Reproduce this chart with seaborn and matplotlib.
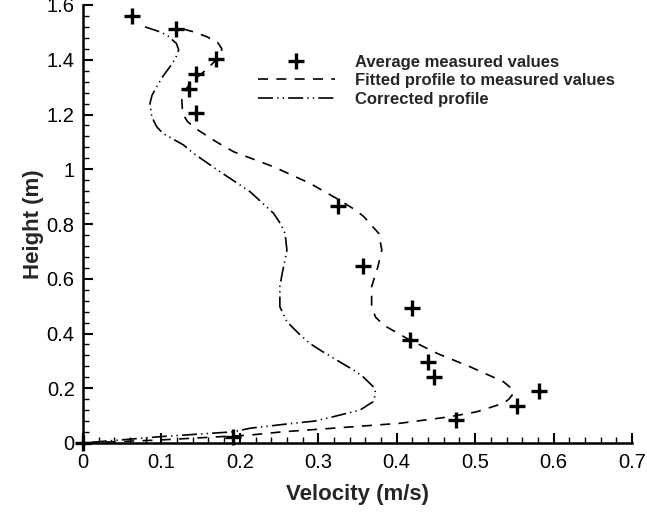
import matplotlib
matplotlib.use("Agg")
import matplotlib.pyplot as plt
from matplotlib.lines import Line2D
from matplotlib.ticker import MultipleLocator
import seaborn as sns
import pandas as pd

# Measured points
meas_velocity = [0.0, 0.191, 0.475, 0.553, 0.582, 0.4475, 0.440, 0.417, 0.419,
                 0.357, 0.3255, 0.1437, 0.135, 0.1437, 0.170, 0.1186, 0.062]
meas_height = [0.0, 0.022, 0.084, 0.136, 0.190, 0.242, 0.297, 0.376, 0.492,
               0.647, 0.866, 1.207, 1.293, 1.348, 1.401, 1.512, 1.561]

# Fitted profile (dashed)
fit_height = [1.512, 1.502, 1.484, 1.462, 1.440, 1.424, 1.400, 1.363, 1.330, 1.300,
              1.253, 1.204, 1.175, 1.150, 1.100, 1.064, 1.009, 0.949, 0.894, 0.850,
              0.827, 0.766, 0.705, 0.644, 0.571, 0.498, 0.460, 0.431, 0.382, 0.328,
              0.279, 0.224, 0.200, 0.182, 0.160, 0.145, 0.114, 0.096, 0.072, 0.054,
              0.041, 0.029, 0.011, 0.0]
fit_velocity = [0.128, 0.141, 0.158, 0.172, 0.177, 0.176, 0.170, 0.157, 0.143, 0.133,
                0.126, 0.127, 0.133, 0.143, 0.170, 0.192, 0.243, 0.289, 0.323, 0.348,
                0.358, 0.377, 0.381, 0.376, 0.368, 0.368, 0.373, 0.383, 0.413, 0.451,
                0.493, 0.536, 0.546, 0.549, 0.543, 0.536, 0.502, 0.468, 0.404, 0.319,
                0.255, 0.213, 0.098, 0.0]

# Corrected profile (dash-dot-dot)
cor_height = [1.520, 1.505, 1.490, 1.460, 1.436, 1.405, 1.375, 1.340, 1.302, 1.270,
              1.241, 1.192, 1.155, 1.131, 1.089, 1.060, 1.000, 0.918, 0.839, 0.800,
              0.766, 0.705, 0.668, 0.620, 0.571, 0.498, 0.443, 0.400, 0.364, 0.340,
              0.303, 0.267, 0.242, 0.206, 0.190, 0.170, 0.151, 0.120, 0.096, 0.080,
              0.072, 0.054, 0.041, 0.023, 0.0]
cor_velocity = [0.079, 0.095, 0.107, 0.119, 0.122, 0.118, 0.111, 0.102, 0.094, 0.088,
                0.0854, 0.0876, 0.094, 0.102, 0.128, 0.140, 0.170, 0.213, 0.243, 0.252,
                0.2576, 0.260, 0.2576, 0.254, 0.251, 0.251, 0.260, 0.275, 0.289, 0.302,
                0.3234, 0.3447, 0.357, 0.370, 0.3725, 0.372, 0.370, 0.353, 0.319, 0.295,
                0.268, 0.213, 0.192, 0.098, 0.0]

x_ticks = [0, 0.1, 0.2, 0.3, 0.4, 0.5, 0.6, 0.7]
x_labels = ["0", "0.1", "0.2", "0.3", "0.4", "0.5", "0.6", "0.7"]
y_ticks = [0, 0.2, 0.4, 0.6, 0.8, 1.0, 1.2, 1.4, 1.6]
y_labels = ["0", "0.2", "0.4", "0.6", "0.8", "1", "1.2", "1.4", "1.6"]

legend_labels = ["Average measured values", "Fitted profile to measured values",
                 "Corrected profile"]

sns.set_style("ticks")
plt.rcParams["font.family"] = ["Liberation Sans", "DejaVu Sans"]

fig = plt.figure(figsize=(6.47, 5.14), dpi=100)
ax = fig.add_axes([83 / 647, 71 / 514, 549 / 647, 438 / 514])

lw = 1.2
dashes_fit = (6, 5)
dashes_cor = (9, 2.5, 0.8, 2.5, 0.8, 2.5)

fit_df = pd.DataFrame({"v": fit_velocity, "h": fit_height})
cor_df = pd.DataFrame({"v": cor_velocity, "h": cor_height})
meas_df = pd.DataFrame({"v": meas_velocity, "h": meas_height})

sns.lineplot(data=fit_df, x="v", y="h", sort=False, estimator=None, ax=ax,
             color="black", linewidth=lw)
ax.lines[-1].set_dashes(dashes_fit)
sns.lineplot(data=cor_df, x="v", y="h", sort=False, estimator=None, ax=ax,
             color="black", linewidth=lw)
ax.lines[-1].set_dashes(dashes_cor)
sns.scatterplot(data=meas_df, x="v", y="h", marker="+", s=120, linewidth=2.4,
                color="black", ax=ax, clip_on=False, zorder=5)

ax.set_xlim(0, 0.7)
ax.set_ylim(0, 1.6)
ax.set_xticks(x_ticks)
ax.set_xticklabels(x_labels)
ax.set_yticks(y_ticks)
ax.set_yticklabels(y_labels)
ax.xaxis.set_minor_locator(MultipleLocator(0.02))
ax.yaxis.set_minor_locator(MultipleLocator(0.04))
ax.tick_params(which="major", direction="in", length=7, width=1.5, labelsize=14.5,
               colors="black", pad=6)
ax.tick_params(which="minor", direction="in", length=4, width=1.0, colors="black")
ax.tick_params(axis="x", which="major", pad=7)
for side in ["top", "right"]:
    ax.spines[side].set_visible(False)
for side in ["left", "bottom"]:
    ax.spines[side].set_linewidth(1.8)
    ax.spines[side].set_color("black")

ax.set_xlabel("Velocity (m/s)", fontsize=16, fontweight="bold", labelpad=9)
ax.set_ylabel("Height (m)", fontsize=16, fontweight="bold", labelpad=2)

handles = [
    Line2D([], [], linestyle="none", marker="+", markersize=11, markeredgewidth=2.4,
           color="black"),
    Line2D([], [], color="black", linewidth=lw, dashes=dashes_fit),
    Line2D([], [], color="black", linewidth=lw, dashes=dashes_cor),
]
leg = ax.legend(handles, legend_labels, loc="upper left",
                bbox_to_anchor=((258 - 83) / 549, (443 - 55) / 438),
                frameon=False, fontsize=12, handlelength=4.6, handletextpad=1.2,
                labelspacing=0.2, borderpad=0, borderaxespad=0)
for t in leg.get_texts():
    t.set_fontweight("bold")

fig.savefig("out.png", dpi=100)
